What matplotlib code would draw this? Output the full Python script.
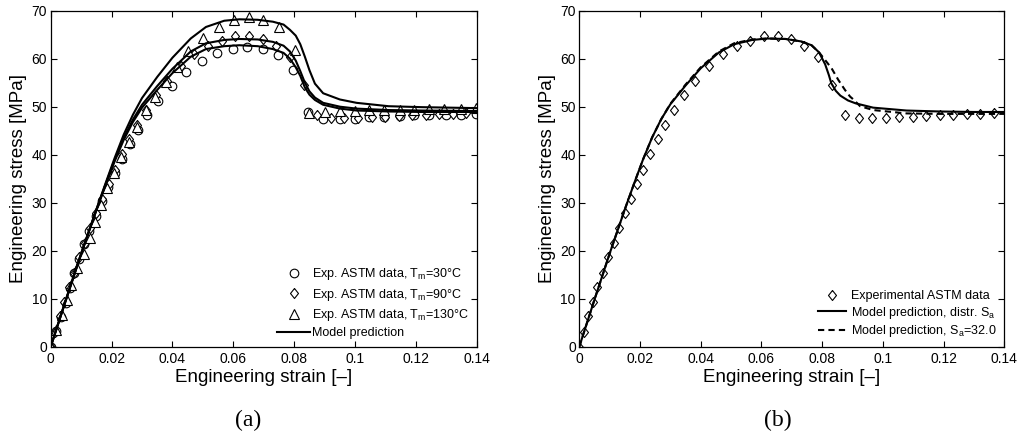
import numpy as np
import matplotlib
matplotlib.use("Agg")
import matplotlib.pyplot as plt

plt.rcParams['font.family'] = ['Liberation Sans', 'DejaVu Sans']
plt.rcParams['mathtext.fontset'] = 'custom'
plt.rcParams['mathtext.rm'] = 'Liberation Sans'
plt.rcParams['mathtext.it'] = 'Liberation Sans'

# ---- panel (a): experimental data ----
eps_30 = [0, 0.0017, 0.0033, 0.0049, 0.0063, 0.0077, 0.0093, 0.011, 0.0127, 0.0148,
          0.0167, 0.0187, 0.021, 0.0235, 0.026, 0.0287, 0.0318, 0.0354, 0.0398, 0.0446,
          0.0497, 0.0547, 0.0599, 0.0645, 0.0698, 0.0746, 0.0796, 0.0846, 0.0895, 0.095,
          0.0999, 0.1047, 0.1096, 0.1146, 0.1195, 0.1244, 0.1299, 0.1348, 0.1397]
sig_30 = [0, 3.3, 6.2, 9.2, 12.2, 15.3, 18.3, 21.3, 24.2, 27.3,
          30.3, 33.2, 36.2, 39.2, 42.2, 45.2, 48.2, 51.2, 54.3, 57.2,
          59.5, 61.1, 62.1, 62.4, 62.0, 60.7, 57.6, 48.8, 47.4, 47.4,
          47.5, 47.8, 47.9, 48.1, 48.2, 48.2, 48.2, 48.3, 48.4]

eps_90 = [0, 0.0014, 0.003, 0.0045, 0.006, 0.0077, 0.0093, 0.0113, 0.013, 0.015,
          0.017, 0.019, 0.0211, 0.0233, 0.0258, 0.0283, 0.0313, 0.0346, 0.0382, 0.0428,
          0.0472, 0.0518, 0.0562, 0.0607, 0.0653, 0.0697, 0.0741, 0.0785, 0.0831, 0.0875,
          0.092, 0.0964, 0.1009, 0.1054, 0.1098, 0.1143, 0.1188, 0.1232, 0.1277, 0.1321,
          0.1365]
sig_90 = [0, 3.1, 6.4, 9.4, 12.5, 15.4, 18.6, 21.7, 24.7, 27.8,
          30.8, 33.9, 36.9, 40.1, 43.2, 46.2, 49.3, 52.4, 55.4, 58.5,
          61.0, 62.7, 63.75, 64.8, 64.8, 64.1, 62.7, 60.3, 54.5, 48.3,
          47.6, 47.6, 47.6, 47.8, 47.9, 48.1, 48.2, 48.3, 48.4, 48.5,
          48.6]

eps_130 = [0, 0.0018, 0.0036, 0.0055, 0.0068, 0.0088, 0.0109, 0.0128, 0.0146, 0.0166,
           0.0185, 0.0209, 0.0231, 0.0256, 0.0282, 0.0313, 0.0343, 0.0379, 0.0414, 0.0452,
           0.0501, 0.0553, 0.0602, 0.0651, 0.0698, 0.0751, 0.0802, 0.0849, 0.0901, 0.095,
           0.0999, 0.1047, 0.1096, 0.1146, 0.1195, 0.1244, 0.1293, 0.1348, 0.1397]
sig_130 = [0, 3.5, 6.6, 9.7, 12.8, 16.3, 19.4, 22.6, 26.0, 29.5,
           33.0, 36.1, 39.6, 42.7, 45.8, 49.3, 52.1, 55.2, 58.3, 61.5,
           64.4, 66.7, 68.1, 68.6, 68.1, 66.5, 61.8, 48.6, 48.8, 49.0,
           49.2, 49.3, 49.3, 49.4, 49.4, 49.5, 49.5, 49.6, 49.7]

# ---- panel (a): model predictions ----
eps_model_a = [0, 0.005, 0.010, 0.015, 0.018, 0.021, 0.024, 0.027, 0.030, 0.035,
               0.040, 0.046, 0.051, 0.057, 0.062, 0.068, 0.073, 0.0765, 0.0786, 0.0805,
               0.082, 0.0835, 0.085, 0.0868, 0.0895, 0.095, 0.1005, 0.111, 0.122, 0.14]
sig_model_130 = [0, 9.8, 19.4, 28.6, 34.0, 39.3, 44.2, 48.3, 51.8, 56.2,
                 60.2, 64.2, 66.6, 67.9, 68.2, 68.1, 67.7, 67.1, 66.0, 64.8,
                 63.0, 60.4, 57.6, 54.8, 52.8, 51.5, 50.8, 50.1, 49.9, 49.7]
sig_model_90 = [0, 9.8, 19.4, 28.5, 33.8, 38.9, 43.5, 47.3, 50.4, 54.3,
                57.9, 61.5, 63.2, 63.9, 64.1, 64.0, 63.5, 62.7, 61.5, 59.6,
                57.4, 55.0, 53.2, 51.9, 50.8, 50.0, 49.6, 49.3, 49.2, 49.1]
sig_model_30 = [0, 9.7, 19.3, 28.4, 33.6, 38.6, 43.1, 46.8, 49.8, 53.5,
                57.0, 60.4, 62.0, 62.6, 62.8, 62.6, 62.0, 61.2, 60.0, 58.2,
                56.4, 54.0, 52.5, 51.4, 50.4, 49.6, 49.2, 49.0, 48.9, 48.9]

# ---- panel (b): model predictions ----
eps_distr = [0, 0.005, 0.010, 0.015, 0.018, 0.021, 0.024, 0.027, 0.030, 0.035,
             0.040, 0.046, 0.051, 0.057, 0.062, 0.068, 0.073, 0.0765, 0.079, 0.081,
             0.0822, 0.083, 0.0845, 0.086, 0.0885, 0.091, 0.0968, 0.1078, 0.1188, 0.13,
             0.14]
sig_distr = [0, 9.8, 19.4, 28.6, 33.9, 39.0, 43.6, 47.4, 50.5, 54.4,
             58.0, 61.3, 63.0, 63.9, 64.2, 64.1, 63.6, 62.8, 61.3, 58.8,
             56.6, 54.9, 53.3, 52.3, 51.3, 50.7, 49.8, 49.2, 49.0, 48.9,
             48.9]
eps_sa32 = [0, 0.005, 0.010, 0.015, 0.018, 0.021, 0.024, 0.027, 0.030, 0.035,
            0.040, 0.046, 0.051, 0.057, 0.062, 0.068, 0.073, 0.0765, 0.079, 0.0805,
            0.0831, 0.0853, 0.0875, 0.0892, 0.0903, 0.0925, 0.0968, 0.1078, 0.1188, 0.14]
sig_sa32 = [0, 9.8, 19.4, 28.6, 33.9, 39.0, 43.6, 47.4, 50.6, 54.6,
            58.2, 61.5, 63.2, 64.0, 64.2, 64.1, 63.6, 62.8, 61.3, 60.1,
            58.0, 55.6, 53.5, 52.1, 51.5, 50.1, 49.3, 48.6, 48.5, 48.5]

x_ticks = [0, 0.02, 0.04, 0.06, 0.08, 0.1, 0.12, 0.14]
x_ticklabels = ['0', '0.02', '0.04', '0.06', '0.08', '0.1', '0.12', '0.14']
y_ticks = [0, 10, 20, 30, 40, 50, 60, 70]

lw = 1.5
mk = dict(linestyle='none', mfc='white', mec='black', mew=0.8)
diamond = [(0, 1), (0.8, 0), (0, -1), (-0.8, 0), (0, 1)]

fig = plt.figure(figsize=(10.22, 4.44), dpi=100)
ax1 = fig.add_axes([0.0496, 0.219, 0.417, 0.757])
ax2 = fig.add_axes([0.5668, 0.219, 0.4159, 0.757])


def style_axes(ax):
    ax.set_xlim(0, 0.14)
    ax.set_ylim(0, 70)
    ax.set_xticks(x_ticks)
    ax.set_xticklabels(x_ticklabels)
    ax.set_yticks(y_ticks)
    ax.tick_params(direction='in', top=True, right=True, length=4, width=0.8,
                   labelsize=10, pad=4)
    ax.tick_params(axis='y', pad=2.5)
    for s in ax.spines.values():
        s.set_linewidth(0.9)
    ax.set_xlabel('Engineering strain [\u2013]', fontsize=13.5, labelpad=2)
    ax.set_ylabel('Engineering stress [MPa]', fontsize=13.5, labelpad=3)


# panel (a)
ax1.plot(eps_30, sig_30, marker='o', ms=6.2, label=r'Exp. ASTM data, T$_\mathrm{m}$=30°C', **mk)
ax1.plot(eps_90, sig_90, marker=diamond, ms=7.2, label=r'Exp. ASTM data, T$_\mathrm{m}$=90°C', **mk)
ax1.plot(eps_130, sig_130, marker='^', ms=7, label=r'Exp. ASTM data, T$_\mathrm{m}$=130°C', **mk)
ax1.plot(eps_model_a, sig_model_130, color='black', lw=lw, label='Model prediction')
ax1.plot(eps_model_a, sig_model_90, color='black', lw=lw)
ax1.plot(eps_model_a, sig_model_30, color='black', lw=lw)
style_axes(ax1)
ax1.legend(loc='lower right', frameon=False, fontsize=9, numpoints=1,
           handlelength=2.6, handletextpad=0.2, labelspacing=0.35,
           borderaxespad=0.2)

# panel (b)
ax2.plot(eps_90, sig_90, marker=diamond, ms=7.2, label='Experimental ASTM data', **mk)
ax2.plot(eps_distr, sig_distr, color='black', lw=lw,
         label=r'Model prediction, distr. S$_\mathrm{a}$')
ax2.plot(eps_sa32, sig_sa32, color='black', lw=lw, linestyle=(0, (3, 2)),
         label=r'Model prediction, S$_\mathrm{a}$=32.0')
style_axes(ax2)
ax2.legend(loc='lower right', frameon=False, fontsize=9, numpoints=1,
           handlelength=2.3, handletextpad=0.4, labelspacing=0.2,
           borderaxespad=0.2)

fig.text(0.2427, 0.052, '(a)', ha='center', va='center', fontsize=17,
         family='Liberation Serif')
fig.text(0.761, 0.052, '(b)', ha='center', va='center', fontsize=17,
         family='Liberation Serif')

fig.savefig('out.png', dpi=100)
